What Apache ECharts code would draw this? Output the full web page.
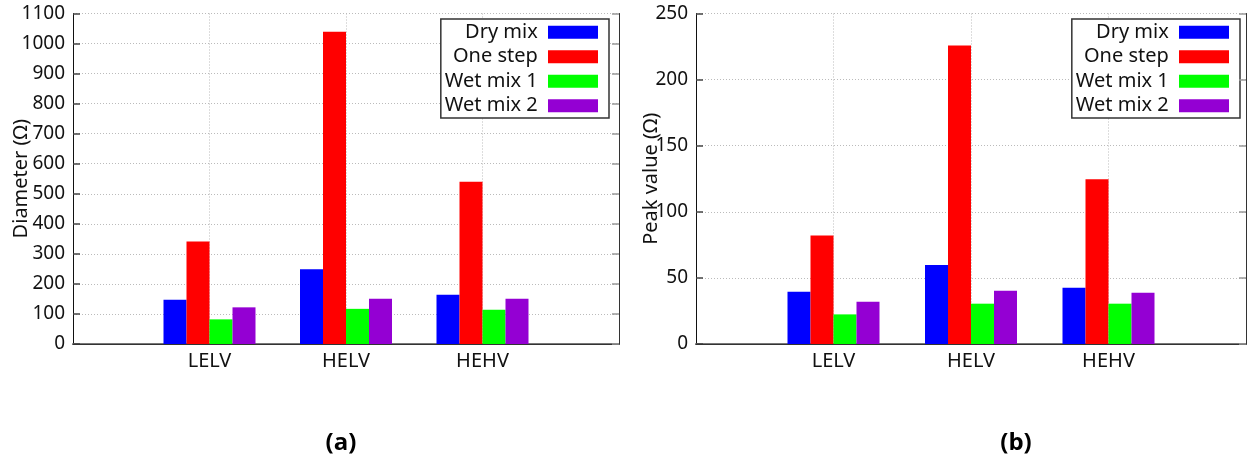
<!DOCTYPE html>
<html>
<head>
<meta charset="utf-8">
<script src="https://cdn.jsdelivr.net/npm/echarts@6/dist/echarts.min.js"></script>
<style>
html,body{margin:0;padding:0;background:#fff;}
#c{width:1247px;height:461px;}
</style>
</head>
<body>
<div id="c"></div>
<script>
const categories = ['LELV', 'HELV', 'HEHV'];
const seriesNames = ['Dry mix', 'One step', 'Wet mix 1', 'Wet mix 2'];
const seriesColors = ['#0000ff', '#ff0000', '#00ff00', '#9400d3'];

// Chart (a): Diameter (Ω)
const diamDry = [147, 249, 164];
const diamOne = [341, 1039, 540];
const diamWet1 = [82, 117, 114];
const diamWet2 = [122, 151, 151];

// Chart (b): Peak value (Ω)
const peakDry = [39.5, 59.7, 42.5];
const peakOne = [82, 225.8, 124.6];
const peakWet1 = [22.4, 30.5, 30.5];
const peakWet2 = [32, 40.3, 38.8];

const diamTicks = { min: 0, max: 1100, interval: 100 };
const peakTicks = { min: 0, max: 250, interval: 50 };

const FONT = "'Noto Sans', 'DejaVu Sans', sans-serif";

// pad categories with empty slots on both ends (axis runs from 0 to 4)
const axisCats = [''].concat(categories, ['']);
const pad = arr => [null].concat(arr, [null]);

const chart = echarts.init(document.getElementById('c'), null, { renderer: 'canvas' });

function xAxisFor(gridIndex) {
  return {
    type: 'category', gridIndex, data: axisCats, boundaryGap: false,
    axisLine: { show: true, lineStyle: { color: '#777', width: 2 } },
    axisTick: { show: false },
    axisLabel: { color: '#111', fontSize: 20, fontFamily: FONT, margin: 7, interval: 0 },
    splitLine: { show: true, interval: 0, lineStyle: { color: '#bbb', type: [1, 2], width: 1 } }
  };
}
function topXAxis(gridIndex) {
  return {
    type: 'category', gridIndex, data: axisCats, boundaryGap: false, position: 'top', z: 5,
    axisLine: { show: true, lineStyle: { color: '#333', width: 1 } },
    axisTick: { show: false }, axisLabel: { show: false }, splitLine: { show: false }
  };
}
function yAxisFor(gridIndex, ticks, name, nameGap) {
  return {
    type: 'value', gridIndex, min: ticks.min, max: ticks.max, interval: ticks.interval,
    name, nameLocation: 'middle', nameGap, nameRotate: 90, nameMoveOverlap: false,
    nameTextStyle: { color: '#111', fontSize: 20, fontFamily: FONT },
    axisLine: { show: true, lineStyle: { color: '#111', width: 1 } },
    axisTick: { show: true, inside: true, length: 7, lineStyle: { color: '#444', width: 1.5 } },
    axisLabel: {
      color: '#111', margin: 8,
      formatter: v => '{t|' + v + '}',
      rich: { t: { fontSize: 19, fontFamily: FONT, color: '#111' } }
    },
    splitLine: { show: true, lineStyle: { color: '#bbb', type: [1, 2], width: 1 } }
  };
}
function mirrorYAxis(gridIndex, ticks) {
  return {
    type: 'value', gridIndex, position: 'right', min: ticks.min, max: ticks.max, interval: ticks.interval, z: 5,
    axisLine: { show: true, lineStyle: { color: '#333', width: 1 } },
    axisTick: { show: true, inside: true, length: 7, lineStyle: { color: '#999', width: 1.5 } },
    axisLabel: { show: false },
    splitLine: { show: false }
  };
}
function legendFor(right) {
  return {
    orient: 'vertical', right, top: 19, align: 'right',
    data: seriesNames,
    icon: 'rect', itemWidth: 50, itemHeight: 13, itemGap: 0,
    padding: [1, 11, 0, 4],
    backgroundColor: '#fff', borderColor: '#333', borderWidth: 1.5, borderRadius: 0,
    selectedMode: false,
    formatter: n => n + ' ',
    textStyle: { color: '#111', fontSize: 20, fontFamily: FONT, lineHeight: 24.5 }
  };
}

const diamData = [diamDry, diamOne, diamWet1, diamWet2];
const peakData = [peakDry, peakOne, peakWet1, peakWet2];
const series = [];
[diamData, peakData].forEach((set, gi) => {
  set.forEach((vals, si) => {
    series.push({
      type: 'bar', name: seriesNames[si], xAxisIndex: gi * 2, yAxisIndex: gi * 2,
      data: pad(vals), barWidth: 23, barGap: '0%',
      itemStyle: { color: seriesColors[si] },
      emphasis: { disabled: true },
      animation: false
    });
  });
});

chart.setOption({
  animation: false,
  backgroundColor: '#fff',
  grid: [
    { left: 73, right: 628, top: 13.5, bottom: 117, show: false, outerBoundsMode: 'none', containLabel: false },
    { left: 696, right: 1, top: 13.5, bottom: 117, show: false, outerBoundsMode: 'none', containLabel: false }
  ],
  xAxis: [xAxisFor(0), topXAxis(0), xAxisFor(1), topXAxis(1)],
  yAxis: [
    yAxisFor(0, diamTicks, 'Diameter (Ω)', 42), mirrorYAxis(0, diamTicks),
    yAxisFor(1, peakTicks, 'Peak value (Ω)', 35), mirrorYAxis(1, peakTicks)
  ],
  legend: [legendFor(638), legendFor(7)],
  series,
  graphic: [
    { type: 'text', x: 341, y: 443, style: { text: '(a)', font: "bold 24px 'Open Sans', 'Noto Sans', sans-serif", fill: '#000', align: 'center', verticalAlign: 'middle' } },
    { type: 'text', x: 1016, y: 443, style: { text: '(b)', font: "bold 24px 'Open Sans', 'Noto Sans', sans-serif", fill: '#000', align: 'center', verticalAlign: 'middle' } }
  ]
});
</script>
</body>
</html>
